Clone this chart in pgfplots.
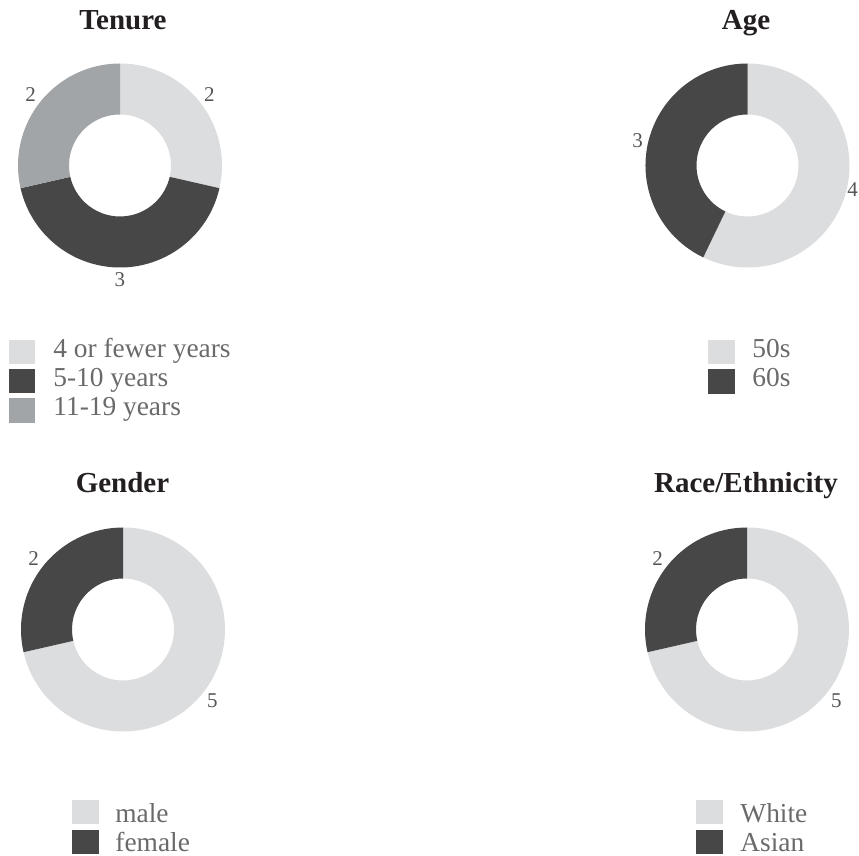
\documentclass[border=0pt]{standalone}
\usepackage{pgfplots}
\pgfplotsset{compat=1.18}
\usepackage{fontspec}
\setmainfont{Liberation Serif}
\usetikzlibrary{calc}
\definecolor{cLight}{HTML}{DCDDDF}
\definecolor{cDark}{HTML}{474747}
\definecolor{cGray}{HTML}{A2A5A8}
\definecolor{cTitle}{HTML}{231F20}
\definecolor{cLeg}{HTML}{6A6A6A}
\definecolor{cLbl}{HTML}{555555}
\newcommand\ttlfont{\fontsize{14.5}{16}\selectfont\bfseries}
\newcommand\legfont{\fontsize{13.7}{15}\selectfont}
\newcommand\lblfont{\fontsize{10.5}{12}\selectfont}
\def\Ro{51pt}
\def\Ri{25.5pt}
\def\Rl{53.5pt}
% #1 cx, #2 cy, #3 cumulative start, #4 cumulative end, #5 total, #6 colour, #7 label
\newcommand{\slice}[7]{%
  \pgfmathsetmacro\aS{90-360*#3/#5}%
  \pgfmathsetmacro\aE{90-360*#4/#5}%
  \pgfmathsetmacro\aM{(\aS+\aE)/2}%
  \pgfmathsetmacro\aA{\aM+180}%
  \fill[#6] ($(axis cs:#1,#2)+(\aS:\Ro)$) arc[start angle=\aS,end angle=\aE,radius=\Ro]
     -- ($(axis cs:#1,#2)+(\aE:\Ri)$) arc[start angle=\aE,end angle=\aS,radius=\Ri] -- cycle;
  \node[anchor=\aA,inner sep=0pt,text=cLbl,font=\lblfont] at ($(axis cs:#1,#2)+(\aM:\Rl)$) {#7};
}
% legend entry: #1 square x, #2 square top y, #3 colour, #4 text x, #5 baseline y, #6 text
\newcommand{\legentry}[6]{%
  \fill[#3] (axis cs:#1,#2) rectangle (axis cs:#1+26.5,#2+24.5);
  \node[anchor=base west,inner sep=0pt,text=cLeg,font=\legfont] at (axis cs:#4,#5) {#6};
}
\begin{document}
\begin{tikzpicture}
\begin{axis}[
  width=429.5pt, height=428pt, scale only axis,
  xmin=0, xmax=859, ymin=0, ymax=856, y dir=reverse,
  hide axis, clip=false]
\pgfplotsextra{%
  % Tenure: 2, 3, 2
  \slice{120}{165.5}{0}{2}{7}{cLight}{2}
  \slice{120}{165.5}{2}{5}{7}{cDark}{3}
  \slice{120}{165.5}{5}{7}{7}{cGray}{2}
  % Age: 4, 3
  \def\Rl{51pt}
  \slice{747.5}{165.5}{0}{4}{7}{cLight}{4}
  \def\Rl{53.5pt}
  \slice{747.5}{165.5}{4}{7}{7}{cDark}{3}
  % Gender: 5, 2
  \slice{123}{629.5}{0}{5}{7}{cLight}{5}
  \slice{123}{629.5}{5}{7}{7}{cDark}{2}
  % Race: 5, 2
  \slice{747}{629.5}{0}{5}{7}{cLight}{5}
  \slice{747}{629.5}{5}{7}{7}{cDark}{2}
  % titles
  \node[anchor=base,inner sep=0pt,text=cTitle,font=\ttlfont] at (axis cs:123,30) {Tenure};
  \node[anchor=base,inner sep=0pt,text=cTitle,font=\ttlfont] at (axis cs:746,30) {Age};
  \node[anchor=base,inner sep=0pt,text=cTitle,font=\ttlfont] at (axis cs:122.5,493) {Gender};
  \node[anchor=base,inner sep=0pt,text=cTitle,font=\ttlfont] at (axis cs:746,493) {Race/Ethnicity};
  % legends
  \legentry{8.5}{340}{cLight}{53}{358}{4 or fewer years}
  \legentry{8.5}{369}{cDark}{53}{387}{5-10 years}
  \legentry{8.5}{398.5}{cGray}{53}{416}{11-19 years}
  \legentry{708}{340}{cLight}{752}{358}{50s}
  \legentry{708}{369.5}{cDark}{752}{387}{60s}
  \legentry{72}{800}{cLight}{115}{822}{male}
  \legentry{72}{830}{cDark}{115}{852}{female}
  \legentry{696}{800}{cLight}{740}{822}{White}
  \legentry{696}{830}{cDark}{740}{852}{Asian}
}
\end{axis}
\pgfresetboundingbox
\path[use as bounding box] (0,0) rectangle (429.5pt,428pt);
\end{tikzpicture}
\end{document}
